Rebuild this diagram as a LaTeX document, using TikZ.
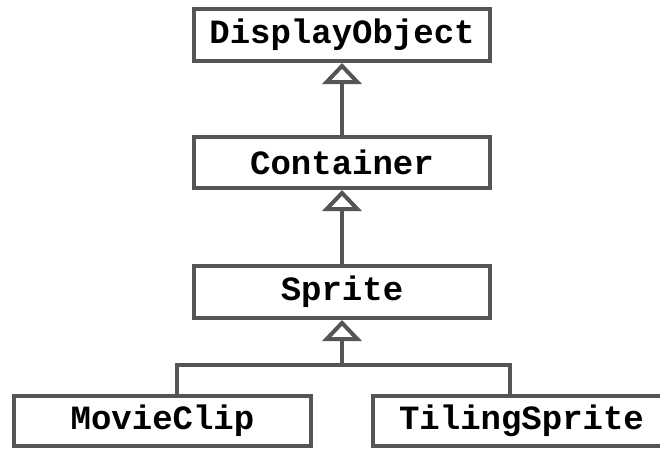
\documentclass[tikz,border=0pt]{standalone}
\usepackage{fontspec}
\setmonofont{Liberation Mono}
\usetikzlibrary{arrows.meta}
\definecolor{linegray}{HTML}{555555}
\tikzset{
  classbox/.style={draw=linegray, line width=4pt, fill=white, inner sep=0pt,
    minimum width=296pt, minimum height=52pt,
    font=\ttfamily\bfseries\fontsize{34}{40}\selectfont, text=black},
  inherit/.style={draw=linegray, line width=4pt,
    -{Triangle[open, length=21pt, width=39pt, fill=white]}},
  plainline/.style={draw=linegray, line width=4pt}
}
\begin{document}
\begin{tikzpicture}[x=1pt,y=-1pt]
\useasboundingbox (0,0) rectangle (660,448);
\node[classbox] (dobj) at (342,35) {DisplayObject};
\node[classbox, minimum height=51pt] (cont) at (342,162.5) {Container};
\node[classbox] (spr) at (342,292) {Sprite};
\node[classbox, minimum width=297pt, minimum height=50pt] (mc) at (162.5,421) {MovieClip};
\node[classbox, minimum width=297pt, minimum height=50pt] (ts) at (521.5,421) {TilingSprite};
\coordinate (join) at (342,365);
\draw[inherit] (cont.north) -- (dobj.south);
\draw[inherit] (spr.north) -- (cont.south);
\draw[plainline] ([xshift=14.5pt]mc.north) |- (join);
\draw[plainline] ([xshift=-11.5pt]ts.north) |- (join);
\draw[inherit] (join) -- (spr.south);
\end{tikzpicture}
\end{document}
